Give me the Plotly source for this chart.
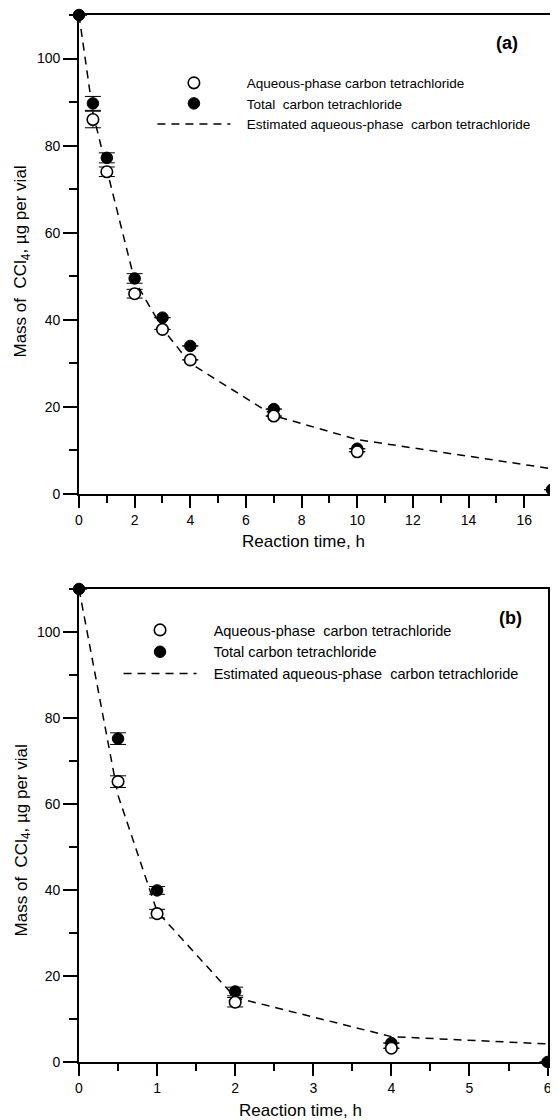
import plotly.graph_objects as go

# ---------- Data: panel (a) ----------
a_aq_t = [0.5, 1, 2, 3, 4, 7, 10]
a_aq_v = [86.0, 74.0, 46.0, 37.8, 30.8, 17.9, 9.7]
a_aq_e = [1.9, 1.1, 1.0, None, None, None, None]

a_tot_t = [0, 0.5, 1, 2, 3, 4, 7, 10, 17]
a_tot_v = [110.0, 89.7, 77.2, 49.5, 40.5, 34.0, 19.5, 10.4, 1.0]
a_tot_e = [None, 1.6, 1.15, 1.1, None, None, None, None, None]

a_est_t = [0, 0.5, 1, 2, 3, 4, 7, 10, 17]
a_est_v = [110.0, 87.5, 74.5, 49.0, 38.0, 30.0, 18.0, 12.5, 5.8]

# ---------- Data: panel (b) ----------
b_aq_t = [0.5, 1, 2, 4]
b_aq_v = [65.2, 34.5, 13.9, 3.2]
b_aq_e = [1.35, 1.0, 1.1, None]

b_tot_t = [0, 0.5, 1, 2, 4, 6]
b_tot_v = [110.0, 75.2, 39.9, 16.4, 4.4, 0.0]
b_tot_e = [None, 1.35, 0.9, 1.0, None, None]

b_est_t = [0, 0.5, 1, 2, 4, 6]
b_est_v = [110.0, 62.0, 35.0, 15.0, 5.9, 4.2]

labels_a = ["Aqueous-phase carbon tetrachloride",
            "Total\u00a0 carbon tetrachloride",
            "Estimated aqueous-phase\u00a0 carbon tetrachloride"]
labels_b = ["Aqueous-phase\u00a0 carbon tetrachloride",
            "Total carbon tetrachloride",
            "Estimated aqueous-phase\u00a0 carbon tetrachloride"]

FONT = "Liberation Sans, Arial, sans-serif"
PAD = "\u00a0\u00a0\u00a0"

fig = go.Figure()


def add_panel(xa, ya, legend, est_t, est_v, tot_t, tot_v, tot_e, aq_t, aq_v, aq_e, labels):
    fig.add_trace(go.Scatter(
        x=est_t, y=est_v, mode="lines", xaxis=xa, yaxis=ya, legend=legend,
        name=PAD + labels[2], legendrank=3,
        line=dict(color="black", width=1.5, dash="8px,6px")))
    fig.add_trace(go.Scatter(
        x=tot_t, y=tot_v, mode="markers", xaxis=xa, yaxis=ya, legend=legend,
        name=PAD + labels[1], legendrank=2, cliponaxis=False,
        marker=dict(symbol="circle", size=11.5, color="black",
                    line=dict(color="black", width=1)),
        error_y=dict(type="data", array=tot_e, visible=True, color="black",
                     thickness=1, width=8)))
    fig.add_trace(go.Scatter(
        x=aq_t, y=aq_v, mode="markers", xaxis=xa, yaxis=ya, legend=legend,
        name=PAD + labels[0], legendrank=1,
        marker=dict(symbol="circle", size=11.5, color="white",
                    line=dict(color="black", width=1.6)),
        error_y=dict(type="data", array=aq_e, visible=True, color="black",
                     thickness=1, width=8)))


add_panel("x", "y", "legend", a_est_t, a_est_v, a_tot_t, a_tot_v, a_tot_e,
          a_aq_t, a_aq_v, a_aq_e, labels_a)
add_panel("x2", "y2", "legend2", b_est_t, b_est_v, b_tot_t, b_tot_v, b_tot_e,
          b_aq_t, b_aq_v, b_aq_e, labels_b)

axis_common = dict(showline=True, linecolor="black", linewidth=1.6, mirror=True,
                   ticks="outside", tickcolor="black", tickwidth=1.5,
                   showgrid=False, zeroline=False,
                   tickfont=dict(family=FONT, size=14, color="black"))

xa_common = dict(axis_common, ticklen=12)
ya_common = dict(axis_common, ticklen=14)

# The page body adds an 8px offset, so the figure is 8px smaller than the window.
fig.update_layout(
    width=550, height=1112, autosize=False,
    margin=dict(l=71, r=2, t=7, b=58),
    paper_bgcolor="white", plot_bgcolor="white",
    font=dict(family=FONT, color="black"),
    xaxis=dict(xa_common, domain=[0, 1], anchor="y", range=[0, 17],
               tick0=0, dtick=2,
               minor=dict(dtick=1, tick0=0, ticks="outside", ticklen=7,
                          tickwidth=1.5, tickcolor="black", showgrid=False)),
    yaxis=dict(ya_common, domain=[0.5425, 1.0], anchor="x", range=[0, 110],
               tick0=0, dtick=20,
               minor=dict(dtick=10, tick0=0, ticks="outside", ticklen=8,
                          tickwidth=1.5, tickcolor="black", showgrid=False)),
    xaxis2=dict(xa_common, domain=[0, 0.9906], anchor="y2", range=[0, 6],
                tick0=0, dtick=1,
                minor=dict(dtick=0.5, tick0=0, ticks="outside", ticklen=7,
                           tickwidth=1.5, tickcolor="black", showgrid=False)),
    yaxis2=dict(ya_common, domain=[0, 0.4518], anchor="x2", range=[0, 110],
                tick0=0, dtick=20,
                minor=dict(dtick=10, tick0=0, ticks="outside", ticklen=8,
                           tickwidth=1.5, tickcolor="black", showgrid=False)),
    legend=dict(x=0.1552, y=0.9498, xanchor="left", yanchor="top",
                bgcolor="rgba(0,0,0,0)", borderwidth=0, itemwidth=73,
                font=dict(family=FONT, size=13.5, color="black"),
                traceorder="normal", itemclick=False),
    legend2=dict(x=0.0836, y=0.4279, xanchor="left", yanchor="top",
                 bgcolor="rgba(0,0,0,0)", borderwidth=0, itemwidth=73,
                 font=dict(family=FONT, size=14.5, color="black"),
                 traceorder="normal", itemclick=False),
    showlegend=True,
)

ytitle = "Mass of\u00a0 CCl<sub>4</sub>, \u00b5g per vial"
ann = [
    dict(text=ytitle, x=-0.1195, y=0.765, xref="paper", yref="paper",
         textangle=-90, showarrow=False, xanchor="center", yanchor="middle",
         font=dict(family=FONT, size=17, color="black")),
    dict(text=ytitle, x=-0.1195, y=0.2121, xref="paper", yref="paper",
         textangle=-90, showarrow=False, xanchor="center", yanchor="middle",
         font=dict(family=FONT, size=17, color="black")),
    dict(text="Reaction time, h", x=(305 - 79) / 477, y=(1062 - 541) / 1047,
         xref="paper", yref="paper", showarrow=False,
         xanchor="center", yanchor="middle",
         font=dict(family=FONT, size=17, color="black")),
    dict(text="Reaction time, h", x=(302 - 79) / 477, y=-(1110 - 1062) / 1047,
         xref="paper", yref="paper", showarrow=False,
         xanchor="center", yanchor="middle",
         font=dict(family=FONT, size=17, color="black")),
    dict(text="<b>(a)</b>", x=(511 - 79) / 477, y=1 - (43 - 15) / 1047,
         xref="paper", yref="paper", showarrow=False,
         xanchor="center", yanchor="middle",
         font=dict(family=FONT, size=18, color="black")),
    dict(text="<b>(b)</b>", x=(514 - 79) / 477, y=1 - (618 - 15) / 1047,
         xref="paper", yref="paper", showarrow=False,
         xanchor="center", yanchor="middle",
         font=dict(family=FONT, size=18, color="black")),
]
fig.update_layout(annotations=ann)

fig.write_html("out.html")
